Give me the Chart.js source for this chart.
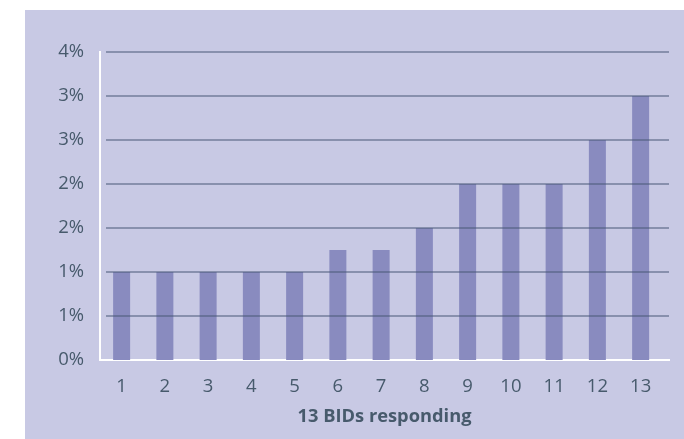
<!DOCTYPE html>
<html>
<head>
<meta charset="utf-8">
<script src="https://cdn.jsdelivr.net/npm/chart.js@4/dist/chart.umd.min.js"></script>
<style>
  html, body { margin: 0; padding: 0; background: #ffffff; }
  #wrap { width: 684px; height: 439px; }
</style>
</head>
<body>
<div id="wrap"><canvas id="c" width="684" height="439"></canvas></div>
<script>
// Share of respondents per BID (percent)
const bids = [1, 2, 3, 4, 5, 6, 7, 8, 9, 10, 11, 12, 13];
const shares = [1, 1, 1, 1, 1, 1.25, 1.25, 1.5, 2, 2, 2, 2.5, 3];
const axisTitle = '13 BIDs responding';

const BG = '#c8c9e4';
const BAR = '#898bbf';
const TEXT = '#475a6c';

// Lavender panel behind the plot
const panel = {
  id: 'panel',
  beforeDraw(chart) {
    const ctx = chart.ctx;
    ctx.save();
    ctx.fillStyle = BG;
    ctx.fillRect(25, 10, chart.width - 25, chart.height - 10);
    ctx.restore();
  }
};

// Horizontal guides drawn over the bars, slightly inset from the left axis
const guides = {
  id: 'guides',
  afterDatasetsDraw(chart) {
    const y = chart.scales.y;
    const area = chart.chartArea;
    const ctx = chart.ctx;
    ctx.save();
    ctx.strokeStyle = 'rgba(72, 88, 118, 0.5)';
    ctx.lineWidth = 2;
    y.ticks.forEach(t => {
      if (t.value === 0) return;
      const py = Math.round(y.getPixelForValue(t.value));
      ctx.beginPath();
      ctx.moveTo(area.left + 6, py);
      ctx.lineTo(area.right, py);
      ctx.stroke();
    });
    ctx.restore();
  }
};

new Chart(document.getElementById('c'), {
  type: 'bar',
  data: {
    datasets: [{
      data: bids.map((b, i) => ({ x: b, y: shares[i] })),
      backgroundColor: BAR,
      borderWidth: 0,
      barPercentage: 0.393,
      categoryPercentage: 1
    }]
  },
  options: {
    responsive: false,
    animation: false,
    layout: { padding: { top: 52, right: 15, left: 0, bottom: 0 } },
    plugins: { legend: { display: false }, tooltip: { enabled: false } },
    scales: {
      x: {
        type: 'linear',
        offset: false,
        min: 0.5,
        max: 13.656,
        grid: { display: false, drawTicks: false },
        border: { display: true, color: '#ffffff', width: 2 },
        afterBuildTicks(scale) {
          scale.ticks = bids.map(v => ({ value: v }));
        },
        afterFit(scale) { scale.height = 79; },
        ticks: {
          color: TEXT,
          font: { family: 'Open Sans', size: 18.5 },
          padding: 16,
          maxRotation: 0,
          autoSkip: false,
          callback: v => String(v)
        },
        title: {
          display: true,
          text: axisTitle,
          color: TEXT,
          font: { family: 'Open Sans', size: 18.3, weight: 'bold' },
          padding: { top: 4, bottom: 11 }
        }
      },
      y: {
        min: 0,
        max: 3.5,
        grid: { display: false, drawTicks: false },
        border: { display: true, color: '#ffffff', width: 2 },
        afterFit(scale) { scale.width = 100; },
        ticks: {
          stepSize: 0.5,
          color: TEXT,
          font: { family: 'Open Sans', size: 18.5 },
          padding: 16,
          callback: v => Math.round(v) + '%'
        }
      }
    }
  },
  plugins: [panel, guides]
});
</script>
</body>
</html>
